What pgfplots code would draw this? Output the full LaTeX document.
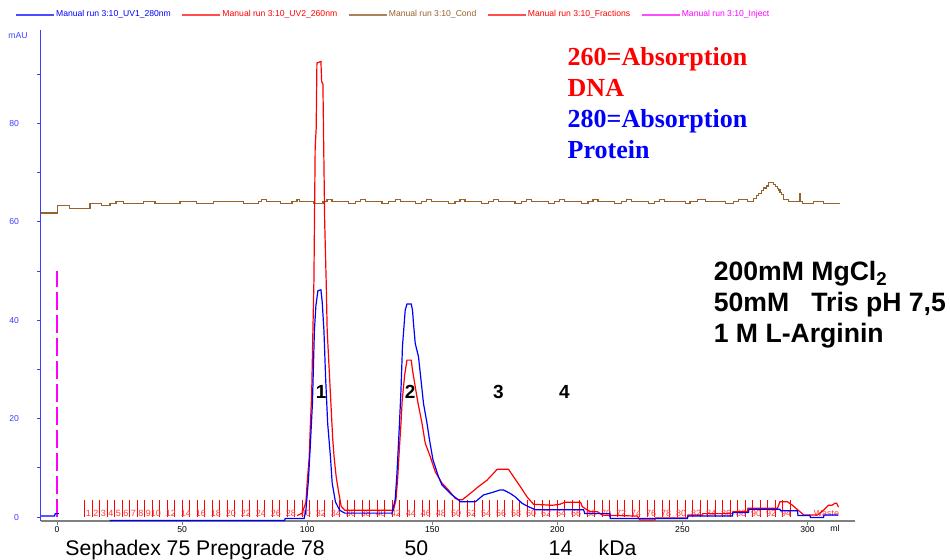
\documentclass[border=0pt]{standalone}
\usepackage{pgfplots}
\pgfplotsset{compat=1.18}
\usepackage{fontspec}
\setmainfont{Liberation Sans}
\newfontfamily\serifbf{Liberation Serif}
\definecolor{uvblue}{RGB}{0,0,255}
\definecolor{uvred}{RGB}{255,0,0}
\definecolor{condbrown}{RGB}{150,98,45}
\definecolor{fraclab}{RGB}{255,60,60}
\definecolor{injmag}{RGB}{255,0,255}
\definecolor{axgray}{RGB}{128,128,128}
\definecolor{ylab}{RGB}{60,60,255}
\begin{document}
\begin{tikzpicture}
\useasboundingbox (-20.5pt,-19pt) rectangle (454.5pt,260.5pt);
\begin{axis}[
  at={(0,0)}, anchor=south west,
  scale only axis, width=407pt, height=245.5pt,
  xmin=-6.4, xmax=319, ymin=-0.8, ymax=99,
  axis x line*=bottom, axis y line*=left,
  x axis line style={axgray, line width=1pt, -},
  y axis line style={ylab, line width=0.5pt, -},
  clip mode=individual,
  unbounded coords=jump,
  /pgf/number format/assume math mode=true,
  xtick={0,50,100,150,200,250,300},
  ytick={0,10,20,30,40,50,60,70,80,90},
  yticklabels={0,,20,,40,,60,,80,},
  major tick length=2pt,
  tick align=outside,
  x tick style={axgray, line width=0.4pt},
  y tick style={ylab, line width=0.4pt},
  xticklabel style={font=\fontsize{4.3}{5}\selectfont, black, yshift=3pt},
  yticklabel style={font=\fontsize{4.3}{5}\selectfont, ylab, xshift=-5.5pt},
  legend columns=5,
  legend image code/.code={\draw[#1] (0pt,0pt) -- (19pt,0pt);},
  legend style={at={(rel axis cs:-0.032,1.0305)}, anchor=west, draw=none, fill=none,
    font=\fontsize{4.3}{5}\selectfont, inner sep=0pt, nodes={inner sep=0.8pt},
    /tikz/every even column/.append style={column sep=4.6pt}},
]
\addlegendimage{uvblue!70, line width=0.6pt}
\addlegendentry{\textcolor{uvblue}{Manual run 3:10\_UV1\_280nm}}
\addlegendimage{uvred!70, line width=0.6pt}
\addlegendentry{\textcolor{uvred}{Manual run 3:10\_UV2\_260nm}}
\addlegendimage{condbrown!80, line width=0.6pt}
\addlegendentry{\textcolor{condbrown}{Manual run 3:10\_Cond}}
\addlegendimage{uvred!70, line width=0.6pt}
\addlegendentry{\textcolor{uvred}{Manual run 3:10\_Fractions}}
\addlegendimage{injmag!70, line width=0.6pt}
\addlegendentry{\textcolor{injmag}{Manual run 3:10\_Inject}}

% fraction marks
\addplot[ycomb, color=uvred, line width=0.4pt, forget plot] coordinates {
(11,3.5) (14,3.5) (17,3.5) (20,3.5) (23,3.5) (26,3.5) (29,3.5) (32,3.5) (35,3.5) (38,3.5)
(41,3.5) (44,3.5) (47,3.5) (50,3.5) (53,3.5) (56,3.5) (59,3.5) (62,3.5) (65,3.5) (68,3.5)
(71,3.5) (74,3.5) (77,3.5) (80,3.5) (83,3.5) (86,3.5) (89,3.5) (92,3.5) (95,3.5) (98,3.5)
(101,3.5) (104,3.5) (107,3.5) (110,3.5) (113,3.5) (116,3.5) (119,3.5) (122,3.5) (125,3.5) (128,3.5)
(131,3.5) (134,3.5) (137,3.5) (140,3.5) (143,3.5) (146,3.5) (149,3.5) (152,3.5) (155,3.5) (158,3.5)
(161,3.5) (164,3.5) (167,3.5) (170,3.5) (173,3.5) (176,3.5) (179,3.5) (182,3.5) (185,3.5) (188,3.5)
(191,3.5) (194,3.5) (197,3.5) (200,3.5) (203,3.5) (206,3.5) (209,3.5) (212,3.5) (215,3.5) (218,3.5)
(221,3.5) (224,3.5) (227,3.5) (230,3.5) (233,3.5) (236,3.5) (239,3.5) (242,3.5) (245,3.5) (248,3.5)
(251,3.5) (254,3.5) (257,3.5) (260,3.5) (263,3.5) (266,3.5) (269,3.5) (272,3.5) (275,3.5) (278,3.5)
(281,3.5) (284,3.5) (287,3.5) (290,3.5) (293,3.5)};
\addplot[only marks, mark=none, color=fraclab, forget plot, point meta=explicit symbolic,
  nodes near coords, nodes near coords align={center},
  nodes near coords style={anchor=south, inner sep=0pt, color=fraclab, text=fraclab, font=\fontsize{4.5}{5}\selectfont}]
coordinates {
(12.5,0)[1] (15.5,0)[2] (18.5,0)[3] (21.5,0)[4] (24.5,0)[5] (27.5,0)[6] (30.5,0)[7] (33.5,0)[8] (36.5,0)[9] (39.5,0)[10]
(45.5,0)[12] (51.5,0)[14] (57.5,0)[16] (63.5,0)[18] (69.5,0)[20] (75.5,0)[22] (81.5,0)[24] (87.5,0)[26] (93.5,0)[28] (99.5,0)[30]
(105.5,0)[32] (111.5,0)[34] (117.5,0)[36] (123.5,0)[38] (129.5,0)[40] (135.5,0)[42] (141.5,0)[44] (147.5,0)[46] (153.5,0)[48] (159.5,0)[50]
(165.5,0)[52] (171.5,0)[54] (177.5,0)[56] (183.5,0)[58] (189.5,0)[60] (195.5,0)[62] (201.5,0)[64] (207.5,0)[66] (213.5,0)[68] (219.5,0)[70]
(225.5,0)[72] (231.5,0)[74] (237.5,0)[76] (243.5,0)[78] (249.5,0)[80] (255.5,0)[82] (261.5,0)[84] (267.5,0)[86] (273.5,0)[88] (279.5,0)[90]
(285.5,0)[92] (291.5,0)[94] (307.6,0)[Waste]};

% inject
\addplot[color=injmag, draw=injmag, line width=0.7pt, dash pattern=on 9pt off 2.5pt, forget plot] coordinates {(0,0) (0,50)};

% conductivity
\addplot[color=condbrown, line width=0.6pt, const plot, forget plot] coordinates {
(-6.4,61.8) (0.1,63.3) (4.9,62.8) (13.2,63.7) (17.9,63.3) (21.2,63.7) (23.6,64.2) (26.5,63.7) (34.5,64.2) (39.2,63.7)
(49.2,64.2) (55.9,63.7) (62.5,64.2) (74.5,63.7) (80.5,64.2) (81.9,64.6) (83.9,64.2) (89.2,63.7) (93.9,64.2) (95.9,64.6)
(96.9,64.2) (102.5,63.7) (106.3,64.2) (107.9,64.6) (109.9,64.2) (116.5,63.7) (119.2,64.2) (121.2,64.6) (123.2,64.2) (129.9,63.7)
(132.5,64.2) (135.2,64.6) (137.2,64.2) (143.2,63.7) (145.8,64.2) (147.8,64.6) (149.8,64.2) (156.5,63.7) (159.1,64.2) (161.1,64.6)
(163.1,64.2) (169.8,63.7) (172.4,64.2) (174.4,64.6) (176.4,64.2) (183.1,63.7) (185.7,64.2) (187.7,64.6) (189.7,64.2) (196.4,63.7)
(199,64.2) (201,64.6) (203,64.2) (209.7,63.7) (212.3,64.2) (214.3,64.6) (216.3,64.2) (223,63.7) (225.6,64.2) (227.6,64.6)
(229.6,64.2) (236.3,63.7) (238.9,64.2) (240.9,64.6) (242.9,64.2) (251.2,63.7) (253,64.2) (255.9,64.6) (259.2,64.2) (267.2,63.7)
(270.5,64.2) (272.5,64.6) (275.9,64.2) (278.5,64.8) (279.5,65.3) (280.5,65.8) (281.5,66.4) (282.5,66.9) (283.5,67.3) (284.5,68)
(286.5,67.6) (287.2,67.2) (288,66.8) (288.5,66.5) (289,66) (289.5,65.5) (290.5,64.6) (292.5,64.2) (296.9,65.7) (297.1,64.2)
(297.9,63.8) (302.5,64.2) (306.5,63.8) (313.2,63.8)};

% UV 260 nm (red)
\addplot[color=uvred, line width=0.6pt, forget plot] coordinates {
(96.0,0.3) (98.0,0.8) (99.5,3) (100.0,7) (100.8,12) (101.3,19) (101.8,25) (102.3,38) (102.7,48) (103.2,75)
(103.6,79) (103.9,92.3) (105.5,92.6) (105.8,88.5) (106.3,88) (106.6,76) (107.0,60) (107.6,48) (108.0,38) (108.8,30)
(109.5,23) (110.2,16) (110.8,12) (111.6,8.2) (112.6,5) (113.6,2.2) (115.0,1.4) (134.5,1.4) (135.5,3.5) (136.2,8)
(137.0,15) (137.5,19) (138.0,23.8) (139.0,29) (139.9,31.9) (141.6,31.9) (142.1,29.9) (143.2,26.5) (144.3,23.2) (145.9,19.1)
(147.2,15) (149.2,12.3) (151.2,9.2) (153.9,6.9) (156.5,5.5) (159.2,3.8) (160.5,3.5) (162.0,3.5) (165.2,4.8) (168.5,6.2)
(171.9,7.5) (174.5,8.9) (175.9,9.7) (180.5,9.7) (182.5,8.2) (185.2,6.2) (187.9,4.1) (190.5,2.6) (198,2.4) (201,2.6)
(203,3.0) (209.3,3.0) (210,2.1) (213,1.1) (216,1.1) (218,0.4) (232,0.2) (233,-0.6) (239,-0.6) (239.2,-0.2)
(252,-0.2) (252.2,0.4) (258,0.4) (258.2,0.7) (270,0.7) (270.2,1.1) (276,1.1) (276.2,1.8) (288,1.8) (289,3.1)
(292,3.1) (294,2.4) (296,1.5) (297,1.1) (298.6,0.4) (304,0.4) (306.4,1.4) (308.4,2.4) (309.8,2.4) (311,2.8)
(311.7,2.8) (312.4,2.0)};

% UV 280 nm (blue)
\addplot[color=uvblue, line width=0.6pt, forget plot] coordinates {
(-6.4,0.2) (-1.0,0.2) (-0.7,0.7) (0.7,0.7) (1.0,nan)
(21.0,-0.7) (91.0,-0.7) (91.2,-0.3) (98.8,-0.3) (99.0,0.2) (99.5,1.4) (100.5,7.5) (101.2,14) (102.1,23) (102.9,38)
(103.5,43) (104.3,46) (105.5,46.2) (106.0,43.8) (106.7,38) (107.4,28) (108.2,19) (109.3,12.3) (110.0,6.9) (111.3,3.1)
(113.0,1.4) (115.0,0.8) (133.9,0.8) (135.2,3.6) (135.9,8.9) (136.9,19) (137.5,25.8) (138.1,34.7) (139.2,42.1) (139.9,43.3)
(141.6,43.3) (142.1,42.1) (142.5,39.4) (143.2,35.3) (144.5,32.6) (145.5,27.9) (146.5,23.1) (147.9,19.1) (148.9,15.7) (150.3,11.6)
(152.5,8.2) (153.9,6.5) (155.9,5.5) (157.9,4.5) (160.5,3.5) (161.2,3.1) (167.2,3.1) (170.5,4.5) (174,5.0) (177,5.5)
(178.5,5.5) (181.2,4.8) (183.2,4.1) (185.9,2.8) (188.5,2.1) (191.2,1.5) (210.5,1.5) (211,0.7) (221,0.7) (221.2,-0.3)
(252,-0.3) (252.2,0.2) (270,0.2) (270.2,0.9) (276.4,0.9) (276.6,1.6) (289,1.6) (289.2,1.3) (296,1.3) (296.2,0.3)
(301,0.3) (301.2,-0.1) (306.4,-0.1) (306.6,0.4) (312.4,0.4)};

% annotations
\node[text=ylab, font=\fontsize{4.3}{5}\selectfont] at (axis cs:-6.4,97.9) [xshift=-11.5pt] {mAU};
\node[font=\fontsize{4.3}{5}\selectfont] at (axis cs:311,-0.8) [yshift=-3.6pt] {ml};

\node[anchor=base west, inner sep=0pt, text=uvred, font={\serifbf\bfseries\fontsize{13}{15}\selectfont}] at (axis cs:204,91.8) {260=Absorption};
\node[anchor=base west, inner sep=0pt, text=uvred, font={\serifbf\bfseries\fontsize{13}{15}\selectfont}] at (axis cs:204,85.5) {DNA};
\node[anchor=base west, inner sep=0pt, text=uvblue, font={\serifbf\bfseries\fontsize{13}{15}\selectfont}] at (axis cs:204,79.1) {280=Absorption};
\node[anchor=base west, inner sep=0pt, text=uvblue, font={\serifbf\bfseries\fontsize{13}{15}\selectfont}] at (axis cs:204,72.8) {Protein};

\node[anchor=base west, inner sep=0pt, font={\bfseries\fontsize{13.3}{15}\selectfont}] at (axis cs:262.4,48) {200mM MgCl\textsubscript{2}};
\node[anchor=base west, inner sep=0pt, font={\bfseries\fontsize{13.3}{15}\selectfont}] at (axis cs:262.4,41.7) {50mM\ \ \ Tris pH 7,5};
\node[anchor=base west, inner sep=0pt, font={\bfseries\fontsize{13.3}{15}\selectfont}] at (axis cs:262.4,35.4) {1 M L-Arginin};

\node[font={\bfseries\fontsize{9.5}{11}\selectfont}] at (axis cs:105.6,25.4) {1};
\node[font={\bfseries\fontsize{9.5}{11}\selectfont}] at (axis cs:141.2,25.4) {2};
\node[font={\bfseries\fontsize{9.5}{11}\selectfont}] at (axis cs:176.4,25.4) {3};
\node[font={\bfseries\fontsize{9.5}{11}\selectfont}] at (axis cs:202.8,25.4) {4};

\node[anchor=base west, inner sep=0pt, font=\fontsize{10.6}{12}\selectfont] at (axis cs:3.2,-7.9) {Sephadex 75 Prepgrade 78};
\node[anchor=base west, inner sep=0pt, font=\fontsize{10.6}{12}\selectfont] at (axis cs:138.8,-7.9) {50};
\node[anchor=base west, inner sep=0pt, font=\fontsize{10.6}{12}\selectfont] at (axis cs:196.4,-7.9) {14};
\node[anchor=base west, inner sep=0pt, font=\fontsize{10.6}{12}\selectfont] at (axis cs:216.4,-7.9) {kDa};
\end{axis}
\end{tikzpicture}
\end{document}
